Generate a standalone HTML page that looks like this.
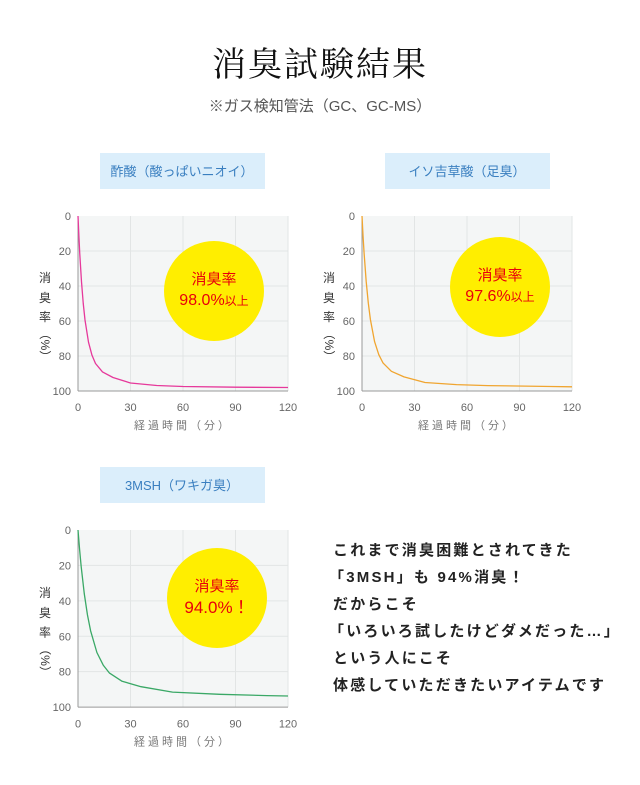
<!DOCTYPE html>
<html><head><meta charset="utf-8"><style>
body{margin:0;background:#fff}
svg text{font-family:"Liberation Sans","Noto Sans CJK JP",sans-serif}
</style></head><body>
<svg width="640" height="780" viewBox="0 0 640 780" xmlns="http://www.w3.org/2000/svg">
<text x="320" y="76" text-anchor="middle" font-size="34" fill="#111" style="font-family:'Noto Serif CJK SC','Noto Sans CJK JP',serif" letter-spacing="2">消臭試験結果</text>
<text x="320" y="111" text-anchor="middle" font-size="15" fill="#555">※ガス検知管法（GC、GC-MS）</text>

<rect x="100" y="153" width="165" height="36" fill="#dbeefb"/>
<text x="182" y="176" text-anchor="middle" font-size="13" fill="#3a7fc0">酢酸（酸っぱいニオイ）</text>
<rect x="385" y="153" width="165" height="36" fill="#dbeefb"/>
<text x="467" y="176" text-anchor="middle" font-size="13" fill="#3a7fc0">イソ吉草酸（足臭）</text>
<rect x="100" y="467" width="165" height="36" fill="#dbeefb"/>
<text x="182" y="490" text-anchor="middle" font-size="13" fill="#3a7fc0">3MSH（ワキガ臭）</text>

<defs>
<g id="grid1">
<rect x="0" y="0" width="210" height="175" fill="#f4f6f6"/>
<g stroke="#e2e5e5" stroke-width="1">
<line x1="52.5" y1="0" x2="52.5" y2="175"/><line x1="105" y1="0" x2="105" y2="175"/><line x1="157.5" y1="0" x2="157.5" y2="175"/><line x1="210" y1="0" x2="210" y2="175"/>
<line x1="0" y1="35" x2="210" y2="35"/><line x1="0" y1="70" x2="210" y2="70"/><line x1="0" y1="105" x2="210" y2="105"/><line x1="0" y1="140" x2="210" y2="140"/>
</g>
<g stroke="#999" stroke-width="1"><line x1="0" y1="0" x2="0" y2="175"/><line x1="0" y1="175" x2="210" y2="175"/></g>
<g font-size="11" fill="#666" text-anchor="end">
<text x="-7" y="4">0</text><text x="-7" y="39">20</text><text x="-7" y="74">40</text><text x="-7" y="109">60</text><text x="-7" y="144">80</text><text x="-7" y="179">100</text>
</g>
<g font-size="11" fill="#666" text-anchor="middle">
<text x="0" y="195">0</text><text x="52.5" y="195">30</text><text x="105" y="195">60</text><text x="157.5" y="195">90</text><text x="210" y="195">120</text>
</g>
<text x="105" y="213" font-size="11" fill="#777" text-anchor="middle" letter-spacing="3">経過時間（分）</text>
<g font-size="12" fill="#333" text-anchor="middle">
<text x="-33" y="66">消</text><text x="-33" y="86">臭</text><text x="-33" y="105">率</text>
<text x="0" y="0" transform="translate(-37,129) rotate(90)" text-anchor="middle">（%）</text>
</g>
</g>
</defs>

<g transform="translate(78,216)"><use href="#grid1"/></g>
<polyline fill="none" stroke="#e6399b" stroke-width="1.3" stroke-linejoin="round" points="78,216 78.9,236.1 79.75,253.5 81.5,281.8 83.25,303.5 85,320 88.5,342.2 92,355.3 95.5,363.5 102.5,371.9 113,377.5 130.5,383 156.75,385.5 183,386.5 235.5,387.2 288,387.5"/>
<circle cx="214" cy="291" r="50" fill="#ffee00"/>
<text x="214" y="284" text-anchor="middle" font-size="15" fill="#e8000b">消臭率</text>
<text x="214" y="305" text-anchor="middle" font-size="16" fill="#e8000b">98.0%<tspan font-size="12">以上</tspan></text>

<g transform="translate(362,216)"><use href="#grid1"/></g>
<polyline fill="none" stroke="#f0a530" stroke-width="1.3" stroke-linejoin="round" points="362,216 363.05,236 364.1,253.2 366.2,281.6 368.3,303.1 370.4,319.5 374.6,341.7 378.8,354.7 383,362.9 391.4,371.3 404,376.9 425,382.5 456.5,384.6 488,385.6 551,386.5 572,386.8"/>
<circle cx="500" cy="287" r="50" fill="#ffee00"/>
<text x="500" y="280" text-anchor="middle" font-size="15" fill="#e8000b">消臭率</text>
<text x="500" y="301" text-anchor="middle" font-size="16" fill="#e8000b">97.6%<tspan font-size="12">以上</tspan></text>

<g transform="translate(78,530) scale(1,1.012)"><use href="#grid1"/></g>
<polyline fill="none" stroke="#3aa866" stroke-width="1.3" stroke-linejoin="round" points="78,530 79.6,549.5 81.15,566.3 84.3,593.9 87.45,614.9 90.6,630.8 96.9,652.5 103.2,665.1 109.5,673.1 122.1,681.3 141,686.7 172.5,692.1 219.75,694.3 267,695.6 288,696"/>
<circle cx="217" cy="598" r="50" fill="#ffee00"/>
<text x="217" y="591" text-anchor="middle" font-size="15" fill="#e8000b">消臭率</text>
<text x="217" y="613" text-anchor="middle" font-size="17" fill="#e8000b">94.0%！</text>

<g font-size="15" font-weight="bold" fill="#222" letter-spacing="2.2">
<text x="333" y="555">これまで消臭困難とされてきた</text>
<text x="329" y="582">「3MSH」も 94%消臭！</text>
<text x="333" y="609">だからこそ</text>
<text x="329" y="636">「いろいろ試したけどダメだった…」</text>
<text x="333" y="663">という人にこそ</text>
<text x="333" y="690">体感していただきたいアイテムです</text>
</g>
</svg>
</body></html>
